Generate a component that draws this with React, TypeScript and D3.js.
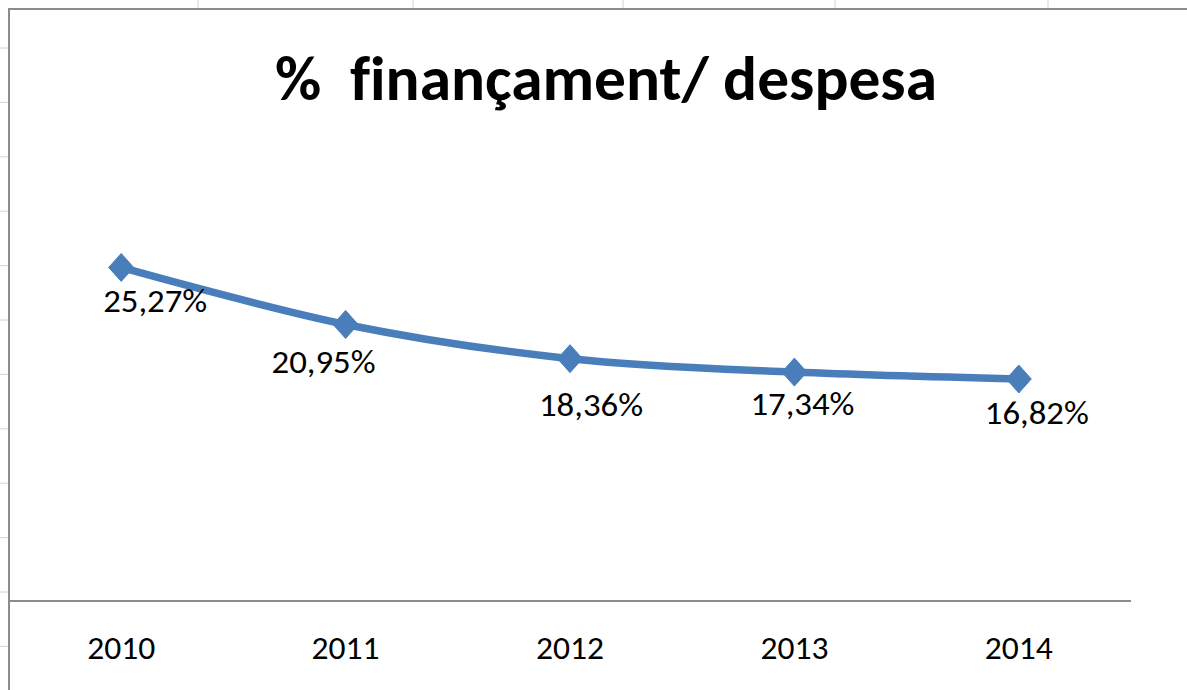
import React from "react";
import * as d3 from "d3";

const years = ["2010", "2011", "2012", "2013", "2014"];
const values = [25.27, 20.95, 18.36, 17.34, 16.82];
const valueLabels = ["25,27%", "20,95%", "18,36%", "17,34%", "16,82%"];
const titleText = "%  finançament/ despesa";

// label placement offsets (layout, not data)
const labelDx = [34, -22, 21, 8, 18];
const labelDy = [45, 49, 57, 43, 45];

const W = 1187;
const H = 690;
const plotLeft = 9;
const plotRight = 1131;
const axisY = 601;
const FONT = "Carlito, Lato, 'Open Sans', sans-serif";

export default function App() {
  const x = d3.scaleBand<string>().domain(years).range([plotLeft, plotRight]);
  const y = d3.scaleLinear().domain([0, 30]).range([axisY, axisY - 30 * 13.2]);
  const cx = (i: number) => (x(years[i]) as number) + x.bandwidth() / 2;

  const line = d3
    .line<number>()
    .x((_, i) => cx(i))
    .y((d) => y(d))
    .curve(d3.curveCatmullRom.alpha(0.5));

  const rowLines = d3.range(48, H, 54.4);
  const colLines = [198, 413, 623, 835, 1048];

  const hw = 12.5;
  const hh = 14;
  const diamond = (px: number, py: number) =>
    `M${px},${py - hh}L${px + hw},${py}L${px},${py + hh}L${px - hw},${py}Z`;

  return (
    <svg
      width={W}
      height={H}
      style={{ position: "absolute", left: 0, top: 0, background: "#fff" }}
    >
      {rowLines.map((ry, i) => (
        <line key={"r" + i} x1={0} x2={8} y1={ry} y2={ry} stroke="#d4d4d4" strokeWidth={1} />
      ))}
      {colLines.map((cxv, i) => (
        <line key={"c" + i} x1={cxv} x2={cxv} y1={0} y2={8} stroke="#d4d4d4" strokeWidth={1} />
      ))}
      <rect x={9} y={9} width={W + 10} height={H + 10} fill="#fff" stroke="#8c8c8c" strokeWidth={2} />

      <text
        x={606}
        y={100}
        textAnchor="middle"
        fontFamily={FONT}
        fontWeight={700}
        fontSize={62}
        textLength={662}
        lengthAdjust="spacingAndGlyphs"
        style={{ whiteSpace: "pre", fontVariantLigatures: "none" }}
        fill="#000"
      >
        {titleText}
      </text>

      <line x1={plotLeft} x2={plotRight} y1={axisY} y2={axisY} stroke="#8c8c8c" strokeWidth={2} />
      {years.map((yr, i) => (
        <text
          key={yr}
          x={cx(i)}
          y={659}
          textAnchor="middle"
          fontFamily={FONT}
          fontSize={32}
          textLength={68}
          lengthAdjust="spacingAndGlyphs"
          fill="#000"
        >
          {yr}
        </text>
      ))}

      <path d={line(values) as string} fill="none" stroke="#4a7ebb" strokeWidth={7.5} strokeLinejoin="round" />
      {values.map((v, i) => (
        <path key={"m" + i} d={diamond(cx(i), y(v))} fill="#4a7ebb" stroke="#4a7ebb" strokeWidth={1} />
      ))}

      {values.map((v, i) => (
        <text
          key={"l" + i}
          x={cx(i) + labelDx[i]}
          y={y(v) + labelDy[i]}
          textAnchor="middle"
          fontFamily={FONT}
          fontSize={33}
          textLength={104}
          lengthAdjust="spacingAndGlyphs"
          fill="#000"
        >
          {valueLabels[i]}
        </text>
      ))}
    </svg>
  );
}
